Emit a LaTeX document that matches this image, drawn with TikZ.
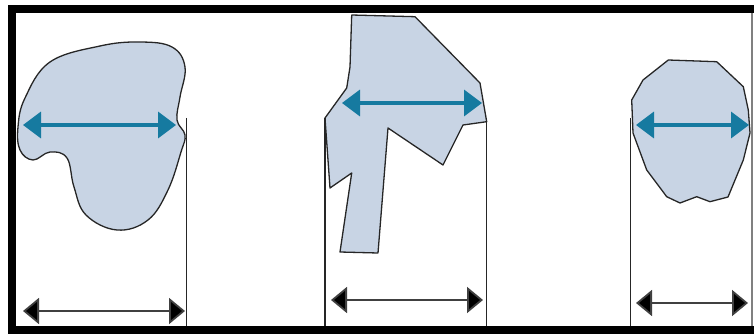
\documentclass[tikz,border=0pt]{standalone}
\usepackage{tikz}
\usetikzlibrary{arrows.meta}
\definecolor{grainfill}{RGB}{200,212,228}
\definecolor{feretblue}{RGB}{22,122,160}

\begin{document}
\begin{tikzpicture}[x=1pt, y=-1pt,
  grain/.style={draw=black!85, line width=1.3pt, fill=grainfill, line join=round},
  feret/.style={{Triangle[length=18pt, width=26pt]}-{Triangle[length=18pt, width=26pt]}, feretblue, line width=3.5pt},
  caliper/.style={{Triangle[length=16pt, width=26pt, fill=black]}-{Triangle[length=16pt, width=26pt, fill=black]}, black!75, line width=1.8pt},
  guide/.style={black!85, line width=1.3pt},
]
\useasboundingbox (0,0) rectangle (754,334);

% frame
\fill (8,5) rectangle (754,13);
\fill (8,5) rectangle (16,334);
\fill (8,326) rectangle (754,334);
\draw[gray, line width=2pt] (752,13) -- (752,326);

% grain 1: rounded blob
\draw[grain] plot[smooth cycle, tension=0.65] coordinates {
  (100,46) (140,42) (172,47) (185,67) (180,97) (177,120) (185,135)
  (181,152) (168,190) (148,220) (117,230) (86,215) (74,187) (67,158)
  (50,152) (33,160) (20,150) (18,127) (25,98) (50,62)};
\coordinate (g1l) at (23,125);
\coordinate (g1r) at (176,125);
\draw[guide] (186.5,118) -- (186.5,326);
\draw[feret] (g1l) -- (g1r);
\coordinate (c1l) at (23,311);
\coordinate (c1r) at (185,311);
\draw[caliper] (c1l) -- (c1r);

% grain 2: angular fragment
\draw[grain] (351.7,15) -- (415,16.7) -- (480,83) -- (486.7,121.7) -- (463,125)
  -- (443,165) -- (388,128) -- (378,253) -- (340,252) -- (351.7,173)
  -- (330,188) -- (325,118) -- (346.7,88) -- (350,67) -- cycle;
\draw[guide] (325,118) -- (325,326);
\draw[guide] (486.5,122) -- (486.5,326);
\coordinate (g2l) at (342,103);
\coordinate (g2r) at (482,103);
\draw[feret] (g2l) -- (g2r);
\coordinate (c2l) at (331,300);
\coordinate (c2r) at (483,300);
\draw[caliper] (c2l) -- (c2r);

% grain 3: near-round polygon
\draw[grain] (668.3,60) -- (716.7,61.7) -- (743.3,86.7) -- (748.3,110) -- (750,133)
  -- (743.3,160) -- (728,197) -- (710,201.7) -- (696.7,196.7) -- (680,203)
  -- (666.7,196.7) -- (646.7,170) -- (633,133) -- (631.7,100) -- (643,80) -- cycle;
\draw[guide] (630.7,118) -- (630.7,326);
\coordinate (g3l) at (636,125);
\coordinate (g3r) at (749,125);
\draw[feret] (g3l) -- (g3r);
\coordinate (c3l) at (636,303);
\coordinate (c3r) at (748,303);
\draw[caliper] (c3l) -- (c3r);
\end{tikzpicture}
\end{document}
